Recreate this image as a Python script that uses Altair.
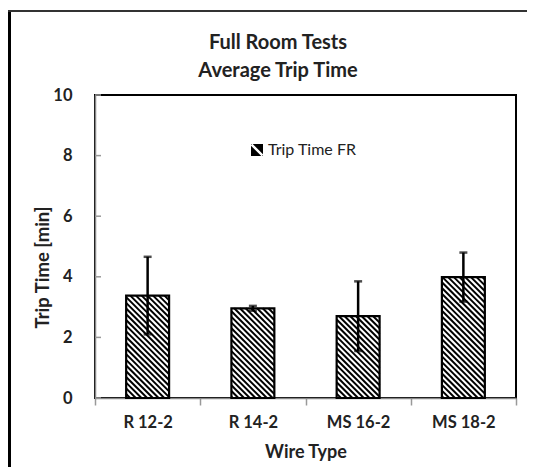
import json
import math
import altair as alt
import pandas as pd

# ---- data ----
categories = ["R 12-2", "R 14-2", "MS 16-2", "MS 18-2"]
trip_time = [3.38, 2.96, 2.70, 3.99]
trip_err = [1.28, 0.08, 1.15, 0.81]
series_name = "Trip Time FR"
y_ticks = [0, 2, 4, 6, 8, 10]

# ---- layout / style ----
W, H = 421, 303
X_DOMAIN = [-0.5, len(categories) - 0.5]
Y_DOMAIN = [0, 10]
BAR_HALF = 0.204
HATCH_STEP = 5.7
FONT = "Lato"
TXT = "#222222"
sx = W / (X_DOMAIN[1] - X_DOMAIN[0])
sy = H / (Y_DOMAIN[1] - Y_DOMAIN[0])

bars = pd.DataFrame({
    "pos": list(range(len(categories))),
    "cat": categories,
    "time": trip_time,
    "err": trip_err,
    "series": series_name,
})
bars["x0"] = bars["pos"] - BAR_HALF
bars["x1"] = bars["pos"] + BAR_HALF
bars["lo"] = bars["time"] - bars["err"]
bars["hi"] = bars["time"] + bars["err"]

# diagonal hatch segments inside each bar (computed from the bar values)
rows = []
for _, r in bars.iterrows():
    px0 = (r["x0"] - X_DOMAIN[0]) * sx
    px1 = (r["x1"] - X_DOMAIN[0]) * sx
    ptop = H - r["time"] * sy
    pbot = H
    cmin, cmax = ptop - px1, pbot - px0
    c = math.floor(cmin / HATCH_STEP) * HATCH_STEP
    while c <= cmax:
        xa = max(px0, ptop - c)
        xb = min(px1, pbot - c)
        if xb - xa > 0.3:
            rows.append({
                "hx": xa / sx + X_DOMAIN[0], "hy": (H - (xa + c)) / sy,
                "hx2": xb / sx + X_DOMAIN[0], "hy2": (H - (xb + c)) / sy,
            })
        c += HATCH_STEP
hatch = pd.DataFrame(rows)

label_arr = json.dumps(categories + [""])
xscale = alt.Scale(domain=X_DOMAIN, nice=False, zero=False)
yscale = alt.Scale(domain=Y_DOMAIN, nice=False)
x_axis = alt.Axis(
    title="Wire Type", values=[v + 0.5 for v in range(-1, len(categories))],
    labelExpr=f"{label_arr}[round(datum.value + 0.5)]",
    labelOffset=sx / 2, labelFlush=False, labelOverlap=False,
    tickSize=7, tickColor="#999999", tickWidth=1.5,
    domainColor="#888888", domainWidth=1.5, grid=False,
    labelFont=FONT, labelFontSize=16.5, labelFontWeight="bold", labelColor=TXT,
    labelPadding=9, titleFont=FONT, titleFontSize=18, titleFontWeight="bold",
    titleColor=TXT, titleY=54, titleBaseline="middle",
)
y_axis = alt.Axis(
    title="Trip Time [min]", values=y_ticks, tickSize=0, grid=False,
    domainColor="#888888", domainWidth=1.5,
    labelFont=FONT, labelFontSize=16.5, labelFontWeight="bold", labelColor=TXT,
    labelPadding=23, titleFont=FONT, titleFontSize=18.5, titleFontWeight="bold",
    titleColor=TXT, titleX=-53, titleY=172, titleAngle=270,
    titleAlign="center", titleBaseline="middle",
)

# legend symbol: black square crossed by a thin white "\" diagonal
legend_path = ("M-0.72,-1L1,-1L1,0.72Z M-1,-0.72L-1,1L0.72,1Z "
               "M-1,-1L-0.85,-1L-1,-0.85Z M1,1L0.85,1L1,0.85Z")

base = alt.Chart(bars)

bar_fill = base.mark_rect(fill="white").encode(
    x=alt.X("x0:Q", scale=xscale, axis=x_axis),
    x2="x1:Q",
    y=alt.Y("time:Q", scale=yscale, axis=y_axis),
    y2=alt.datum(0),
)

hatch_layer = alt.Chart(hatch).mark_rule(color="black", strokeWidth=2).encode(
    x=alt.X("hx:Q", scale=xscale, axis=x_axis),
    y=alt.Y("hy:Q", scale=yscale, axis=y_axis),
    x2="hx2:Q", y2="hy2:Q",
)

outline = base.mark_rect(fillOpacity=0, stroke="black", strokeWidth=2.2).encode(
    x=alt.X("x0:Q", scale=xscale, axis=x_axis),
    x2="x1:Q",
    y=alt.Y("time:Q", scale=yscale, axis=y_axis),
    y2=alt.datum(0),
)

# carries the legend entry for the series (its own marks are transparent)
legend_layer = base.mark_point(shape=legend_path, filled=True, size=121).encode(
    x=alt.X("pos:Q", scale=xscale, axis=x_axis),
    y=alt.Y("time:Q", scale=yscale, axis=y_axis),
    opacity=alt.value(0),
    fill=alt.Fill("series:N", scale=alt.Scale(range=["black"]),
                  legend=alt.Legend(
                      title=None, orient="none", legendX=154, legendY=47,
                      symbolType=legend_path, symbolSize=144, symbolOpacity=1,
                      labelFont=FONT, labelFontSize=16, labelColor=TXT,
                      labelOffset=3)),
)

err_rule = base.mark_rule(color="black", strokeWidth=2.5).encode(
    x=alt.X("pos:Q", scale=xscale, axis=x_axis),
    y=alt.Y("lo:Q", scale=yscale, axis=y_axis),
    y2="hi:Q",
)

caps = base.transform_fold(["lo", "hi"], as_=["end", "val"]).mark_tick(
    orient="horizontal", size=8, thickness=2.5, color="black"
).encode(
    x=alt.X("pos:Q", scale=xscale, axis=x_axis),
    y=alt.Y("val:Q", scale=yscale, axis=y_axis),
)

ytick_layer = alt.Chart(pd.DataFrame({"v": y_ticks})).mark_rule(
    color="#999999", strokeWidth=1.5
).encode(
    x=alt.value(0), x2=alt.value(6),
    y=alt.Y("v:Q", scale=yscale, axis=y_axis),
)

frame_src = alt.Data(values=[{"k": 1}])
frame_left = alt.Chart(frame_src).mark_rule(color="black", strokeWidth=3).encode(
    x=alt.value(-85.5), y=alt.value(-84), y2=alt.value(385)
)
frame_top = alt.Chart(frame_src).mark_rule(color="#333333", strokeWidth=2).encode(
    x=alt.value(-87), x2=alt.value(440), y=alt.value(-84)
)

chart = alt.layer(
    bar_fill, hatch_layer, outline, legend_layer, err_rule, caps, ytick_layer,
    frame_left, frame_top
).properties(
    width=W, height=H,
    autosize=alt.AutoSizeParams(type="none"),
    padding={"left": 87, "top": 87, "right": 11, "bottom": 69},
    background="white",
    title=alt.TitleParams(
        ["Full Room Tests", "Average Trip Time"], font=FONT, fontSize=20,
        fontWeight="bold", color=TXT, anchor="middle", dx=-27.5, offset=-71,
        lineHeight=28,
    ),
).configure_view(stroke="black", strokeWidth=2)

chart.save("out.html", embed_options={"renderer": "svg", "actions": False})
